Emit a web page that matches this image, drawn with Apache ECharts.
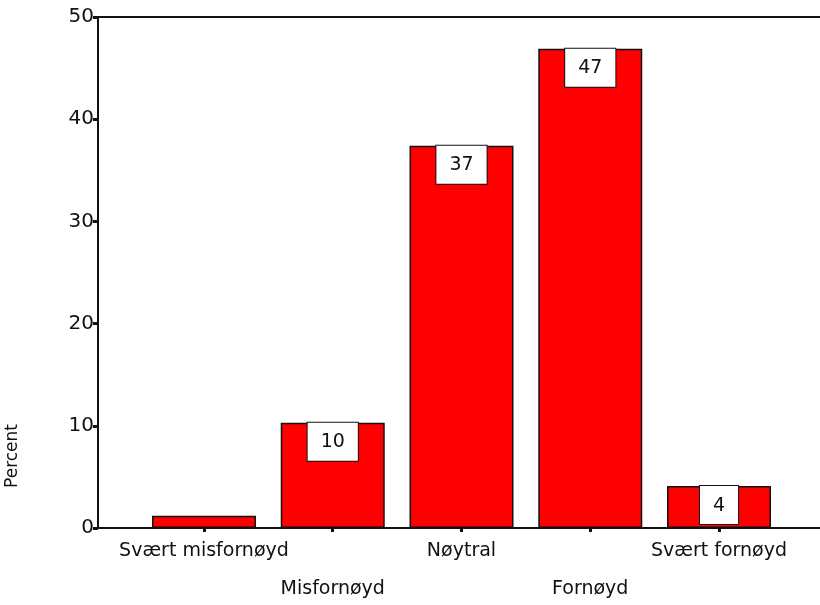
<!DOCTYPE html>
<html>
<head>
<meta charset="utf-8">
<script src="https://cdn.jsdelivr.net/npm/echarts@6/dist/echarts.min.js"></script>
<style>
  html, body { margin: 0; padding: 0; background: #fff; }
  #chart { width: 820px; height: 605px; }
</style>
</head>
<body>
<div id="chart"></div>
<script>
// Satisfaction survey: share of respondents per answer (percent)
const categories = ['Svært misfornøyd', 'Misfornøyd', 'Nøytral', 'Fornøyd', 'Svært fornøyd'];
const percentValues = [1.2, 10.3, 37.4, 46.9, 4.1];
const yTicks = { min: 0, max: 50, interval: 10 };
const yTitle = 'Percent';

const FONT = 'DejaVu Sans';
const INK = '#111';

const chart = echarts.init(document.getElementById('chart'), null, { renderer: 'canvas' });

const option = {
  backgroundColor: '#fff',
  animation: false,
  grid: [
    // frame: y axis, bottom and top lines spanning the full width
    { left: 98, right: 0, top: 17, bottom: 77, outerBoundsMode: 'none', containLabel: false },
    // bars, laid out in their own category band
    { left: 139.6, right: 36.6, top: 17, bottom: 77, outerBoundsMode: 'none', containLabel: false }
  ],
  xAxis: [
    {
      gridIndex: 0, type: 'value', min: 0, max: 1, position: 'bottom',
      axisLine: { show: true, lineStyle: { color: INK, width: 2 } },
      axisTick: { show: false }, axisLabel: { show: false }, splitLine: { show: false }
    },
    {
      gridIndex: 0, type: 'value', min: 0, max: 1, position: 'top',
      axisLine: { show: true, lineStyle: { color: INK, width: 2 } },
      axisTick: { show: false }, axisLabel: { show: false }, splitLine: { show: false }
    },
    {
      gridIndex: 1, type: 'category', data: categories, position: 'bottom',
      z: 5,
      axisLine: { show: false },
      axisTick: { show: true, interval: 0, alignWithLabel: true, length: 4, lineStyle: { color: INK, width: 3 } },
      axisLabel: {
        interval: 0,
        margin: 4,
        color: INK,
        fontFamily: FONT,
        fontSize: 19,
        lineHeight: 38,
        formatter: (v, i) => (i % 2 ? '\n' + v : v)
      },
      splitLine: { show: false }
    }
  ],
  yAxis: [
    {
      gridIndex: 0, type: 'value', min: yTicks.min, max: yTicks.max, interval: yTicks.interval,
      axisLine: { show: true, lineStyle: { color: INK, width: 2 } },
      axisTick: { show: true, length: 5, lineStyle: { color: INK, width: 3 } },
      axisLabel: { color: INK, fontFamily: FONT, fontSize: 20, margin: 4 },
      splitLine: { show: false }
    },
    {
      gridIndex: 1, type: 'value', min: yTicks.min, max: yTicks.max,
      show: false
    }
  ],
  graphic: [
    {
      // axis title, written bottom-to-top beside the lower part of the axis
      type: 'text',
      left: 4,
      top: 424,
      rotation: Math.PI / 2,
      style: { text: yTitle, fill: INK, font: '17px "' + FONT + '"' }
    }
  ],
  series: [
    {
      type: 'bar',
      xAxisIndex: 2,
      yAxisIndex: 1,
      barWidth: 104,
      data: percentValues.map(v => ({ value: v, label: { show: v >= 2 } })),
      itemStyle: { color: '#ff0000', borderColor: INK, borderWidth: 1.5 },
      label: {
        position: 'insideTop',
        distance: 0,
        formatter: p => String(Math.round(p.value)),
        color: INK,
        fontFamily: FONT,
        fontSize: 19,
        backgroundColor: '#fff',
        borderColor: INK,
        borderWidth: 1,
        padding: [10, 13, 9, 13]
      }
    }
  ]
};

chart.setOption(option);
</script>
</body>
</html>
